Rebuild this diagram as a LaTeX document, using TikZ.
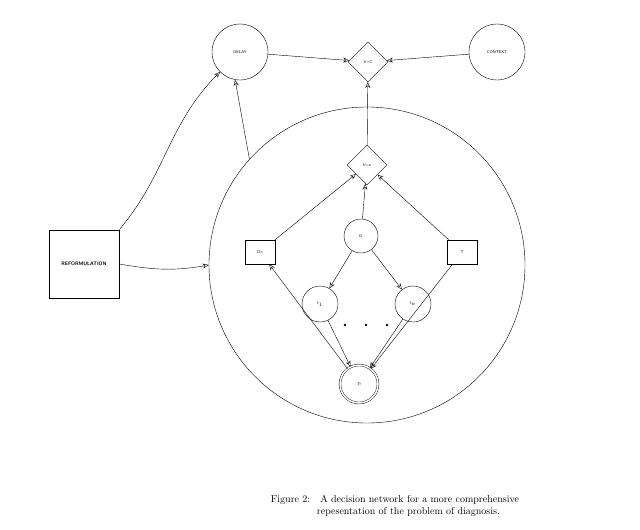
\documentclass[tikz,border=0pt]{standalone}
\usetikzlibrary{shapes.geometric,arrows.meta}
\begin{document}
\begin{tikzpicture}[x=1pt,y=-1pt,
  every node/.style={font=\fontsize{4}{5}\selectfont\sffamily},
  circ/.style={circle,draw,thin,minimum size=#1},
  dia/.style={diamond,draw,thin,minimum size=40pt,inner sep=0},
  box/.style={rectangle,draw,thin},
  arr/.style={-{Stealth[length=6pt,width=5pt,open]},thin}]
\useasboundingbox (0,0) rectangle (640,530);
\node[circ=56pt] (delay) at (240,52) {DELAY};
\node[dia] (vc) at (368,62) {V=C};
\node[circ=56pt] (ctx) at (497,52) {CONTEXT};
\node[circle,draw,thin,minimum size=316pt] (big) at (367,265) {};
\node[dia] (vu) at (367,165) {V=u};
\node[circ=34pt] (d) at (361,236) {D};
\node[box,minimum width=30pt,minimum height=24pt] (dx) at (260,252) {Dx};
\node[box,minimum width=30pt,minimum height=24pt] (t) at (462,252) {T};
\node[circ=36pt] (f1) at (320,304) {f$_1$};
\node[circ=36pt] (fn) at (413,304) {f$_n$};
\node[circle,draw,thin,double,double distance=1.5pt,minimum size=38pt] (tr) at (359,384) {Tr};
\foreach \x/\n in {345/a,366/b,387/c} \fill (\x,325) circle (1.3pt);
\node[box,thick,minimum width=70pt,minimum height=68pt,font=\fontsize{5}{6}\selectfont\sffamily\bfseries] (ref) at (84,264) {REFORMULATION};
\draw[arr] (delay) -- (vc);
\draw[arr] (ctx) -- (vc);
\draw[arr] (vu) -- (vc);
\draw[arr] (big.138) -- (delay.-100);
\draw[arr] (ref.north east) to[out=50,in=-135] (delay.-135);
\draw[arr] (ref.east) to[out=-10,in=190] (big.west);
\draw[arr] (d) -- (vu);
\draw[arr] (dx) -- (vu);
\draw[arr] (t) -- (vu);
\draw[arr] (d) -- (f1);
\draw[arr] (d) -- (fn);
\draw[arr] (f1) -- (tr);
\draw[arr] (fn) -- (tr);
\draw[arr] (t) -- (tr);
\draw[arr] (tr) -- (dx);
\node[font=\fontsize{10}{12}\selectfont\rmfamily,align=left] (cap) at (395,506) {Figure 2:\quad A decision network for a more comprehensive\\ \hspace{4.6em}repesentation of the problem of diagnosis.};
\end{tikzpicture}
\end{document}
